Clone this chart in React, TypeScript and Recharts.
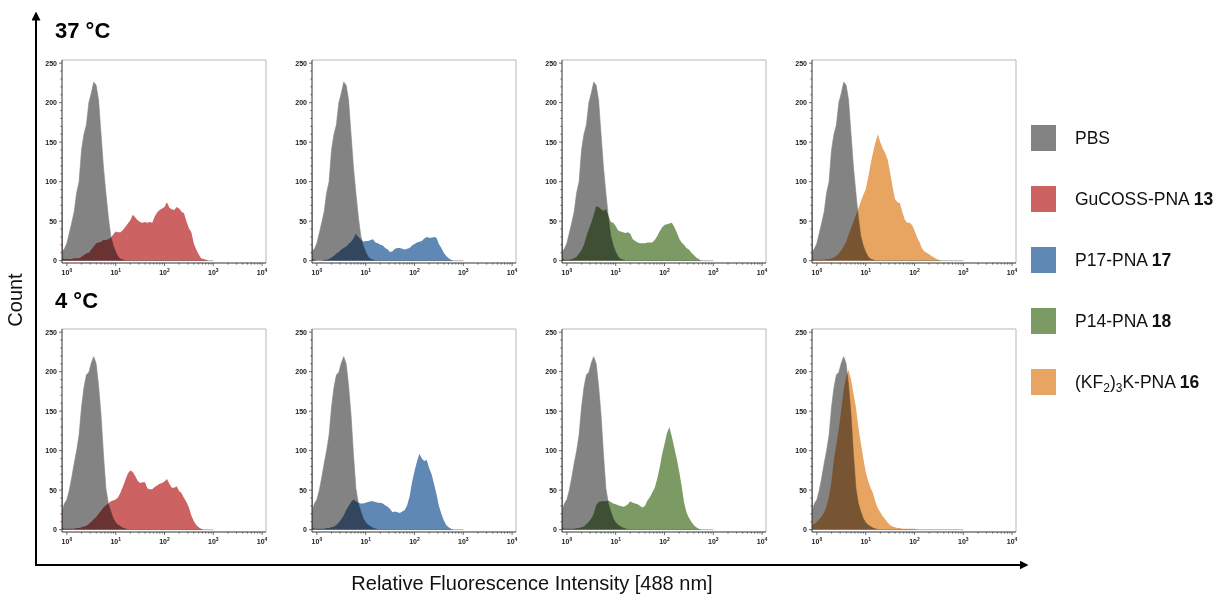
import React from "react";
import { AreaChart, Area, XAxis, YAxis, ReferenceLine } from "recharts";

// bin centres in log10(intensity); first two bins hold the off-scale pile-up at the left edge
const LOG_BINS = [-0.1, -0.09, ...Array.from({ length: 62 }, (_, i) => Number((-0.05 + i * 0.05).toFixed(2)))];

const PBS_37 = [170, 12, 15, 22, 35, 48, 62, 86, 100, 140, 160, 172, 200, 212, 226, 222, 203, 160, 118, 85, 55, 31, 19, 11, 5, 2, 1, 0];
const PBS_4 = [160, 25, 33, 38, 50, 66, 84, 100, 120, 155, 180, 196, 199, 211, 219, 210, 182, 145, 95, 52, 33, 23, 14, 9, 6, 4, 2, 1, 0];

const GUCOSS_37 = [70, 3, 2, 2, 2, 2, 3, 3, 3, 5, 7, 9, 10, 14, 18, 22, 23, 24, 26, 26, 27, 29, 33, 37, 36, 36, 39, 43, 47, 51, 58, 55, 51, 49, 48, 49, 48, 49, 48, 56, 61, 64, 66, 68, 74, 67, 65, 64, 68, 66, 62, 60, 50, 41, 36, 22, 14, 8, 3, 2, 1, 0];
const P17_37 = [24, 2, 1, 0, 0, 0, 1, 1, 2, 4, 6, 9, 11, 14, 16, 18, 21, 24, 28, 34, 30, 27, 24, 25, 25, 26, 27, 23, 22, 20, 19, 16, 14, 11, 12, 15, 16, 16, 15, 14, 15, 16, 19, 21, 23, 24, 25, 28, 30, 29, 29, 30, 29, 21, 16, 10, 6, 3, 1, 0];
const P14_37 = [85, 3, 1, 1, 1, 2, 3, 5, 9, 13, 20, 31, 40, 48, 58, 69, 68, 65, 63, 65, 57, 49, 48, 44, 38, 37, 36, 35, 36, 34, 27, 25, 23, 22, 22, 22, 23, 23, 23, 26, 31, 37, 42, 45, 46, 47, 48, 43, 36, 28, 23, 20, 16, 14, 10, 7, 4, 2, 0];
const KF_37 = [90, 3, 1, 1, 1, 1, 1, 2, 2, 3, 4, 6, 9, 13, 18, 24, 33, 41, 50, 58, 66, 75, 83, 90, 105, 122, 137, 150, 160, 150, 142, 136, 128, 112, 94, 78, 74, 73, 62, 52, 48, 48, 45, 38, 30, 24, 16, 12, 10, 8, 6, 4, 2, 1, 0];

const GUCOSS_4 = [70, 2, 1, 1, 1, 1, 1, 2, 2, 3, 4, 5, 7, 10, 13, 16, 20, 24, 28, 31, 33, 36, 37, 38, 41, 47, 55, 63, 71, 75, 73, 68, 62, 59, 60, 60, 52, 51, 51, 54, 56, 58, 59, 61, 64, 58, 53, 53, 55, 49, 46, 40, 35, 28, 18, 11, 6, 3, 1, 0];
const P17_4 = [48, 3, 1, 1, 1, 1, 1, 2, 2, 3, 4, 6, 9, 13, 18, 25, 30, 35, 38, 36, 34, 33, 33, 34, 35, 36, 36, 35, 34, 34, 33, 31, 29, 26, 22, 23, 22, 21, 23, 25, 31, 42, 60, 74, 86, 96, 90, 87, 88, 78, 70, 58, 45, 30, 20, 12, 6, 3, 1, 0];
const P14_4 = [70, 3, 1, 1, 1, 1, 1, 2, 2, 3, 4, 7, 10, 14, 20, 31, 35, 36, 36, 36, 37, 35, 33, 32, 31, 30, 29, 30, 32, 36, 34, 33, 32, 30, 28, 30, 37, 41, 47, 53, 64, 78, 95, 108, 122, 130, 118, 104, 90, 74, 56, 35, 22, 15, 10, 6, 3, 1, 0];
const KF_4 = [48, 6, 7, 10, 13, 17, 22, 30, 42, 62, 90, 108, 128, 152, 177, 194, 202, 190, 172, 155, 130, 110, 91, 73, 62, 53, 46, 35, 27, 22, 17, 13, 9, 6, 4, 3, 2, 2, 1, 1, 1, 1, 1, 1, 0];

const LEGEND_NAMES = ["PBS", "GuCOSS-PNA ", "P17-PNA ", "P14-PNA ", "K-PNA "];
const LEGEND_NUMS = ["", "13", "17", "18", "16"];
const COLORS = ["#838383", "#cd6262", "#6088b4", "#7b9a64", "#e8a562"];

const ROW_TITLES = ["37 °C", "4 °C"];
const ROW_PBS = [PBS_37, PBS_4];
const ROW_SAMPLES = [
  [GUCOSS_37, P17_37, P14_37, KF_37],
  [GUCOSS_4, P17_4, P14_4, KF_4],
];

const X_DOMAIN = [-0.1, 4.08];
const Y_DOMAIN = [-3, 254];
const X_MAJOR = [0, 1, 2, 3, 4];
const X_TICKS = [
  ...X_MAJOR,
  ...[0, 1, 2, 3].flatMap((d) => [2, 3, 4, 5, 6, 7, 8, 9].map((k) => d + Math.log10(k))),
];
const Y_TICKS = Array.from({ length: 26 }, (_, i) => i * 10);

const FONT = "'Liberation Sans', Arial, sans-serif";
const INK = "#222";

const XTick = (props: any) => {
  const { x, y, payload } = props;
  const major = X_MAJOR.includes(payload.value);
  return (
    <g>
      <line x1={x} x2={x} y1={y} y2={y + (major ? 3 : 1.6)} stroke="#333" strokeWidth={0.7} />
      {major && (
        <text x={x} y={y + 12} textAnchor="middle" fontFamily={FONT} fontSize={7} fontWeight="bold" fill={INK}>
          10
          <tspan dy={-3} fontSize={5}>
            {payload.value}
          </tspan>
        </text>
      )}
    </g>
  );
};

const YTick = (props: any) => {
  const { x, y, payload } = props;
  const major = payload.value % 50 === 0;
  return (
    <g>
      <line x1={x - (major ? 3 : 1.6)} x2={x} y1={y} y2={y} stroke="#333" strokeWidth={0.7} />
      {major && (
        <text x={x - 5} y={y + 2.5} textAnchor="end" fontFamily={FONT} fontSize={7} fontWeight="bold" fill={INK}>
          {payload.value}
        </text>
      )}
    </g>
  );
};

const Panel = ({ pbs, sample, color, left, top }: { pbs: number[]; sample: number[]; color: string; left: number; top: number }) => {
  const data = LOG_BINS.map((x, i) => ({ x, pbs: pbs[i] ?? 0, sample: sample[i] ?? 0 }));
  return (
    <div style={{ position: "absolute", left, top }}>
      <AreaChart width={239} height={228} data={data} margin={{ top: 5, right: 5, left: 0, bottom: 0 }}>
        <XAxis
          dataKey="x"
          type="number"
          domain={X_DOMAIN}
          allowDataOverflow
          ticks={X_TICKS}
          interval={0}
          tick={<XTick />}
          tickLine={false}
          tickSize={0}
          tickMargin={0}
          height={20}
          axisLine={{ stroke: "#333", strokeWidth: 1 }}
        />
        <YAxis
          type="number"
          domain={Y_DOMAIN}
          allowDataOverflow
          ticks={Y_TICKS}
          interval={0}
          tick={<YTick />}
          tickLine={false}
          tickSize={0}
          tickMargin={0}
          width={30}
          axisLine={{ stroke: "#333", strokeWidth: 1 }}
        />
        <Area type="linear" dataKey="pbs" fill={COLORS[0]} fillOpacity={1} stroke={COLORS[0]} strokeWidth={0.6} isAnimationActive={false} />
        <Area className="mult" type="linear" dataKey="sample" fill={color} fillOpacity={1} stroke="none" isAnimationActive={false} />
        <ReferenceLine y={Y_DOMAIN[1]} stroke="#b8b8b8" strokeWidth={1} />
        <ReferenceLine x={X_DOMAIN[1]} stroke="#b8b8b8" strokeWidth={1} />
      </AreaChart>
    </div>
  );
};

export default function App() {
  return (
    <div style={{ position: "absolute", left: 0, top: 0, width: 1219, height: 596, background: "#fff" }}>
      <style>{".mult, .mult path { mix-blend-mode: multiply; }"}</style>
      <svg width={1219} height={596} style={{ position: "absolute", left: 0, top: 0 }}>
        <defs>
          <marker id="arr" viewBox="0 0 10 10" refX="5" refY="5" markerWidth="4.5" markerHeight="4.5" orient="auto">
            <path d="M0,0 L10,5 L0,10 z" fill="#000" />
          </marker>
        </defs>
        <polyline points="36,18 36,565 1022,565" fill="none" stroke="#000" strokeWidth={2} />
        <line x1={36} y1={40} x2={36} y2={16} stroke="#000" strokeWidth={2} markerEnd="url(#arr)" />
        <line x1={1000} y1={565} x2={1024} y2={565} stroke="#000" strokeWidth={2} markerEnd="url(#arr)" />
        <text transform="translate(22,300) rotate(-90)" textAnchor="middle" fontFamily={FONT} fontSize={20} fill="#111">
          Count
        </text>
        <text x={532} y={590} textAnchor="middle" fontFamily={FONT} fontSize={20} fill="#111">
          Relative Fluorescence Intensity [488 nm]
        </text>
        {ROW_TITLES.map((t, r) => (
          <text key={t} x={55} y={38 + r * 270} fontFamily={FONT} fontSize={22} fontWeight="bold" fill="#000">
            {t}
          </text>
        ))}
        {LEGEND_NAMES.map((name, i) => {
          const cy = 138 + i * 61;
          return (
            <g key={name}>
              <rect x={1031} y={cy - 13} width={25} height={26} fill={COLORS[i]} />
              <text x={1075} y={cy + 6} fontFamily={FONT} fontSize={17.5} fill="#111">
                {i === 4 && (
                  <>
                    (KF<tspan dy={4} fontSize={12}>2</tspan>
                    <tspan dy={-4}>)</tspan>
                    <tspan dy={4} fontSize={12}>3</tspan>
                    <tspan dy={-4}>{name}</tspan>
                  </>
                )}
                {i !== 4 && name}
                <tspan fontWeight="bold">{LEGEND_NUMS[i]}</tspan>
              </text>
            </g>
          );
        })}
      </svg>
      {ROW_SAMPLES.map((samples, r) =>
        samples.map((s, c) => (
          <Panel key={`${r}-${c}`} pbs={ROW_PBS[r]} sample={s} color={COLORS[c + 1]} left={32 + c * 250} top={55 + r * 269} />
        ))
      )}
    </div>
  );
}
